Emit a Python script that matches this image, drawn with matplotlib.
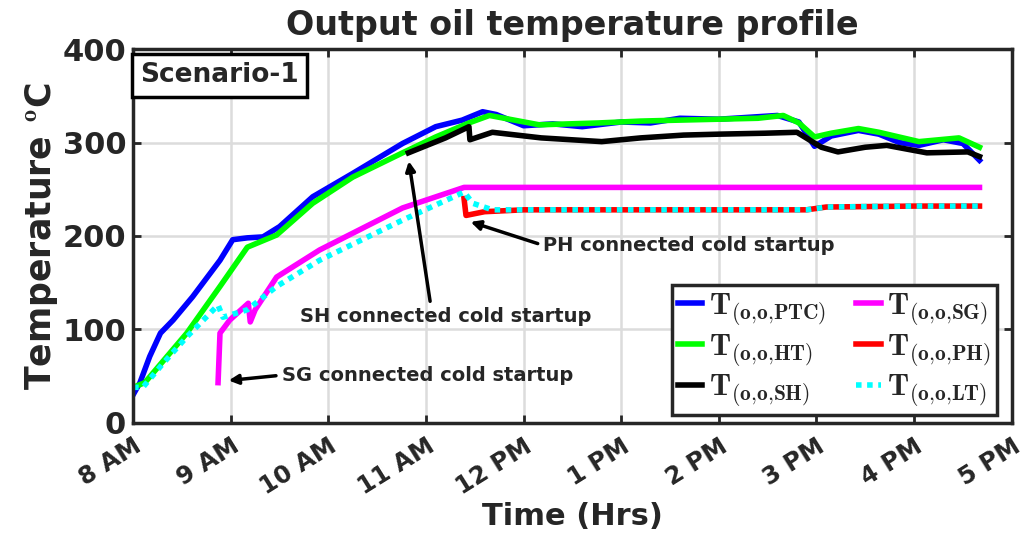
import numpy as np
import matplotlib.pyplot as plt

plt.rcParams['mathtext.fontset'] = 'cm'
plt.rcParams['text.color'] = '#262626'
plt.rcParams['xtick.color'] = '#262626'
plt.rcParams['ytick.color'] = '#262626'
plt.rcParams['axes.labelcolor'] = '#262626'

# time in hours (8 = 8 AM)
t_ptc = [8.0, 8.07, 8.17, 8.28, 8.41, 8.61, 8.89, 9.02, 9.17, 9.33, 9.5, 9.84, 10.25, 10.76, 11.1, 11.37,
         11.58, 11.72, 12.0, 12.3, 12.6, 13.0, 13.3, 13.6, 14.0, 14.3, 14.6, 14.82, 14.98, 15.15, 15.43,
         15.64, 15.85, 16.05, 16.3, 16.5, 16.67]
T_ptc = [30, 43, 71, 96, 110, 135, 174, 196, 198, 199, 210, 242, 267, 299, 317, 324,
         333, 330, 318, 320, 317, 322, 321, 326, 325, 327, 329, 322, 296, 307, 313,
         309, 300, 297, 303, 299, 281]

t_ht = [8.0, 8.12, 8.55, 8.89, 9.17, 9.47, 9.84, 10.25, 10.76, 11.1, 11.44, 11.65, 12.16, 12.77, 13.2,
        13.59, 14.0, 14.4, 14.66, 14.82, 14.98, 15.15, 15.43, 15.64, 16.05, 16.46, 16.67]
T_ht = [38, 43, 96, 146, 188, 201, 235, 263, 289, 306, 321, 329, 319, 321, 323,
        324, 325, 326, 329, 321, 306, 310, 315, 311, 301, 305, 295]

t_sh = [10.82, 11.2, 11.44, 11.45, 11.68, 12.18, 12.8, 13.2, 13.64, 14.0, 14.47, 14.8, 15.05, 15.22,
        15.5, 15.72, 16.13, 16.55, 16.67]
T_sh = [289, 305, 317, 303, 311, 305, 301, 305, 308, 309, 310, 311, 295, 290,
        295, 297, 289, 290, 285]

t_sg = [8.87, 8.89, 8.99, 9.18, 9.2, 9.25, 9.47, 9.91, 10.76, 11.39, 16.67]
T_sg = [43, 96, 110, 128, 108, 121, 156, 185, 230, 252, 252]

t_ph = [11.39, 11.41, 11.6, 12.0, 14.9, 15.1, 16.0, 16.67]
T_ph = [240, 222, 226, 228, 228, 231, 232, 232]

t_lt = [8.0, 8.1, 8.31, 8.55, 8.87, 8.92, 9.17, 9.47, 9.91, 10.76, 11.39, 11.48, 11.68, 12.0, 14.9,
        15.1, 16.0, 16.67]
T_lt = [38, 38, 64, 92, 126, 113, 121, 146, 174, 217, 247, 235, 228, 228, 228,
        231, 232, 232]

hour_ticks = list(range(8, 18))
hour_labels = ['8 AM', '9 AM', '10 AM', '11 AM', '12 PM', '1 PM', '2 PM', '3 PM', '4 PM', '5 PM']


def sub(name):
    return r'$\mathbf{T}_{\mathbf{(o{,}o{,}' + name + r')}}$'


fig = plt.figure(figsize=(10.24, 5.4), dpi=100)
ax = fig.add_axes([0.130, 0.217, 0.858, 0.692])

lw = 4
ax.plot(t_ptc, T_ptc, color='#0000ff', lw=lw, label=sub('PTC'))
ax.plot(t_ht, T_ht, color='#00ff00', lw=lw, label=sub('HT'))
ax.plot(t_sh, T_sh, color='black', lw=lw, label=sub('SH'))
ax.plot(t_sg, T_sg, color='#ff00ff', lw=lw, label=sub('SG'))
ax.plot(t_ph, T_ph, color='#ff0000', lw=lw, label=sub('PH'))
ax.plot(t_lt, T_lt, color='#00ffff', lw=lw, ls=(0, (1, 1)), label=sub('LT'))

ax.set_xlim(8, 17)
ax.set_ylim(0, 400)
ax.set_xticks(hour_ticks)
ax.set_xticklabels(hour_labels, rotation=32, ha='right', rotation_mode='anchor',
                   fontsize=17.5, fontweight='bold')
ax.set_yticks([0, 100, 200, 300, 400])
ax.tick_params(axis='y', labelsize=22)
for lab in ax.get_yticklabels():
    lab.set_fontweight('bold')
ax.tick_params(direction='in', length=6, width=2, pad=5, top=True, right=True)
ax.tick_params(axis='x', pad=8)
ax.grid(True, color='#dcdcdc', lw=1.8)
for s in ax.spines.values():
    s.set_linewidth(2.5)
    s.set_color('#262626')

ax.set_title('Output oil temperature profile', fontsize=24, fontweight='bold', pad=10)
ax.set_ylabel('Temperature $^{\\mathbf{o}}$C', fontsize=25, fontweight='bold', labelpad=2)
ax.set_xlabel('Time (Hrs)', fontsize=22, fontweight='bold', labelpad=2)

ax.text(0.008, 0.965, 'Scenario-1', transform=ax.transAxes, fontsize=19, fontweight='bold',
        va='top', ha='left', bbox=dict(facecolor='white', edgecolor='black', lw=2.5, pad=6))

ax.annotate('SG connected cold startup', xy=(8.95, 45), xytext=(9.52, 51), fontsize=14,
            fontweight='bold', va='center',
            arrowprops=dict(arrowstyle='-|>', color='black', lw=2.5, mutation_scale=14, relpos=(0, 0.5)))
ax.annotate('SH connected cold startup', xy=(10.82, 283), xytext=(11.2, 114), fontsize=14,
            fontweight='bold', va='center', ha='center',
            arrowprops=dict(arrowstyle='-|>', color='black', lw=2.5, mutation_scale=14, relpos=(0.45, 1)))
ax.annotate('PH connected cold startup', xy=(11.43, 216), xytext=(12.2, 190), fontsize=14,
            fontweight='bold', va='center',
            arrowprops=dict(arrowstyle='-|>', color='black', lw=2.5, mutation_scale=14, relpos=(0, 0.5)))

leg = ax.legend(loc='lower right', ncol=2, fontsize=22, handlelength=0.8, handletextpad=0.2,
                columnspacing=1.0, labelspacing=0.15, borderpad=0.2, borderaxespad=0,
                fancybox=False, framealpha=1, edgecolor='#262626', bbox_to_anchor=(0.983, 0.022))
leg.get_frame().set_linewidth(2.5)

fig.savefig('out.png', dpi=100)
